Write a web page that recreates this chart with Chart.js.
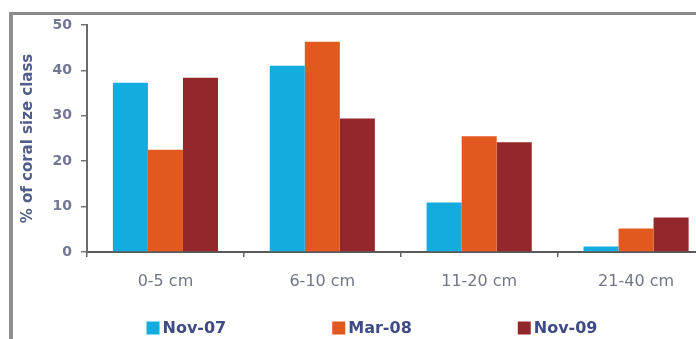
<!DOCTYPE html>
<html>
<head>
<meta charset="utf-8">
<script src="https://cdn.jsdelivr.net/npm/chart.js@4/dist/chart.umd.min.js"></script>
<style>
  html, body { margin: 0; padding: 0; overflow: hidden; background: #ffffff; }
  #frame {
    position: absolute; left: 9px; top: 12px; width: 800px; height: 400px;
    border-top: 3px solid #8a8a8a; border-left: 4px solid #8f8f8f;
  }
  #wrap { position: absolute; left: 0; top: 0; width: 720px; height: 339px; }
</style>
</head>
<body>
<div id="frame"></div>
<div id="wrap"><canvas id="chart"></canvas></div>
<script>
// Coral colony size classes and the share of colonies in each, per survey
const sizeClasses = ['0-5 cm', '6-10 cm', '11-20 cm', '21-40 cm'];
const surveys = ['Nov-07', 'Mar-08', 'Nov-09'];
const nov07 = [37.3, 41.0, 10.9, 1.2];
const mar08 = [22.5, 46.3, 25.5, 5.2];
const nov09 = [38.4, 29.4, 24.2, 7.6];
const yTicks = [0, 10, 20, 30, 40, 50];

const seriesColors = ['#14abdf', '#e1591f', '#93272b'];
const FONT = '"DejaVu Sans", "Liberation Sans", sans-serif';

// Legend drawn as a single widely spaced row under the axis labels
const spacedLegend = {
  id: 'spacedLegend',
  afterDraw(chart) {
    const ctx = chart.ctx;
    const box = 13, gap = 3, spread = 106;
    ctx.save();
    ctx.font = 'bold 16px ' + FONT;
    ctx.textBaseline = 'middle';
    const items = chart.data.datasets.map(ds => ({
      label: ds.label, color: ds.backgroundColor,
      w: box + gap + ctx.measureText(ds.label).width
    }));
    const total = items.reduce((s, it) => s + it.w, 0) + spread * (items.length - 1);
    let x = 372 - total / 2;
    const y = 328;
    items.forEach(it => {
      ctx.fillStyle = it.color;
      ctx.fillRect(x, y - box / 2, box, box);
      ctx.fillStyle = '#3f4b85';
      ctx.fillText(it.label, x + box + gap, y + 1);
      x += it.w + spread;
    });
    ctx.restore();
  }
};

new Chart(document.getElementById('chart'), {
  type: 'bar',
  data: {
    labels: sizeClasses,
    datasets: [
      { label: surveys[0], data: nov07, backgroundColor: seriesColors[0] },
      { label: surveys[1], data: mar08, backgroundColor: seriesColors[1] },
      { label: surveys[2], data: nov09, backgroundColor: seriesColors[2] }
    ]
  },
  options: {
    responsive: true,
    maintainAspectRatio: false,
    animation: false,
    layout: { padding: { top: 25, left: 0, right: 5.5, bottom: 0 } },
    datasets: { bar: { categoryPercentage: 0.67, barPercentage: 1.0 } },
    plugins: {
      legend: { display: false },
      tooltip: { enabled: false }
    },
    scales: {
      x: {
        grid: { drawOnChartArea: false, drawTicks: true, tickLength: 5, color: '#666666', lineWidth: 1.5, offset: true },
        border: { display: true, color: '#5a5a5a', width: 2 },
        ticks: { color: '#717686', font: { family: FONT, size: 16 }, padding: 15 },
        afterFit(scale) { scale.height = 339 - 252; }
      },
      y: {
        min: 0, max: 50,
        afterBuildTicks(scale) { scale.ticks = yTicks.map(v => ({ value: v })); },
        grid: { drawOnChartArea: false, drawTicks: true, tickLength: 6, color: '#777777', lineWidth: 1.5 },
        border: { display: true, color: '#6a6a6a', width: 2 },
        ticks: { color: '#727794', font: { family: FONT, size: 14, weight: 'bold' }, padding: 9 },
        title: {
          display: true, text: '% of coral size class', color: '#525e8a',
          font: { family: FONT, size: 15, weight: 'bold' }, padding: { top: 19 }
        },
        afterFit(scale) { scale.width = 87; }
      }
    }
  },
  plugins: [spacedLegend]
});
</script>
</body>
</html>
